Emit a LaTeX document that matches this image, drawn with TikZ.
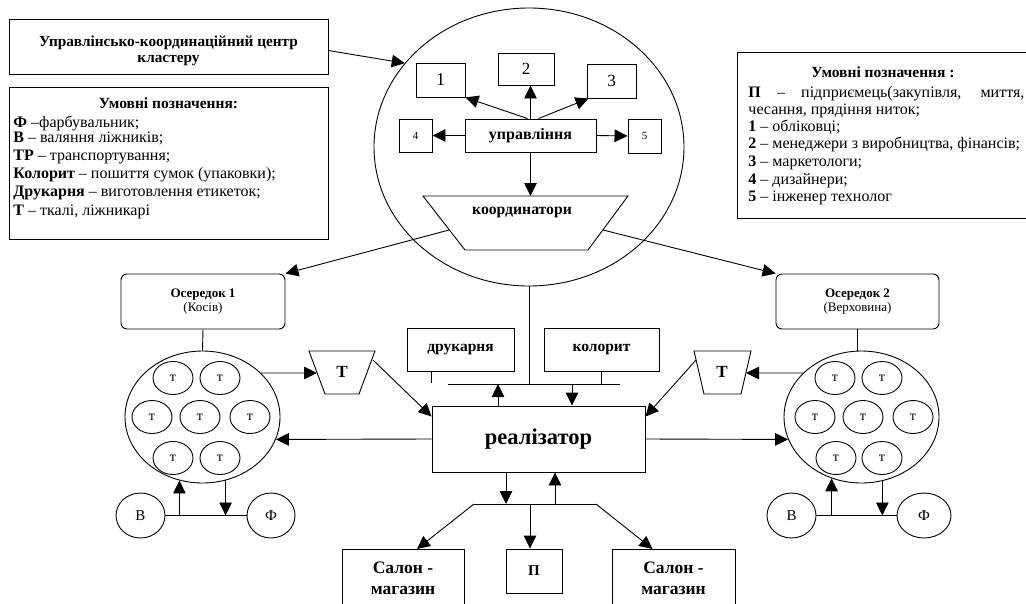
\documentclass[tikz,border=0pt]{standalone}
\usepackage{fontspec}
\setmainfont{Liberation Serif}
\usetikzlibrary{arrows.meta,shapes.geometric,calc}
\begin{document}
\begin{tikzpicture}[x=1pt,y=-1pt,line width=0.9pt,
  box/.style={draw,rectangle,inner sep=0pt,align=center},
  rbox/.style={draw,rectangle,rounded corners=6pt,inner sep=0pt,align=center,font=\fontsize{13}{14.5}\selectfont},
  ell/.style={draw,ellipse,inner sep=0pt},
  tell/.style={draw,ellipse,inner sep=0pt,minimum width=40pt,minimum height=33pt,font=\fontsize{14}{14}\selectfont},
  arr/.style={-{Triangle[length=13pt,width=12.5pt]}},
  leg/.style={anchor=base west,inner sep=0pt,font=\fontsize{16}{18}\selectfont},
  lab/.style={inner sep=0pt,align=center}]
\useasboundingbox (0,0) rectangle (1026,603);
\clip (0,0) rectangle (1026,603);

% top-left title box
\node[box,minimum width=319pt,minimum height=55pt] (tl) at (168.5,46.5) {};
\node[lab,font=\bfseries\fontsize{15.3}{16.5}\selectfont] (tlt) at (168.5,51) {Управлінсько-координаційний центр\\кластеру};

% left legend
\node[box,minimum width=319pt,minimum height=152pt] (lg) at (168.5,163) {};
\node[leg,anchor=base,font=\bfseries\fontsize{15.5}{16}\selectfont] (lgt) at (168.5,108) {Умовні позначення:};
\node[leg] (l1) at (13,127.5) {\textbf{Ф} –фарбувальник;};
\node[leg] (l2) at (13,142.5) {\textbf{В} – валяння ліжників;};
\node[leg] (l3) at (13,160) {\textbf{ТР} – транспортування;};
\node[leg] (l4) at (13,178) {\textbf{Колорит} – пошиття сумок (упаковки);};
\node[leg] (l5) at (13,196.5) {\textbf{Друкарня} – виготовлення етикеток;};
\node[leg] (l6) at (13,215) {\textbf{Т} – ткалі, ліжникарі};

% right legend
\node[box,minimum width=293pt,minimum height=166pt] (rg) at (883.5,135) {};
\node[leg,anchor=base,font=\bfseries\fontsize{15.5}{16}\selectfont] (rgt) at (883,77) {Умовні позначення :};
\node[leg] (r1) at (748,97.5) {\makebox[276pt][s]{\textbf{П} – підприємець(закупівля, миття,}};
\node[leg] (r2) at (748,114) {чесання, прядіння ниток;};
\node[leg] (r3) at (748,131.5) {\textbf{1} – обліковці;};
\node[leg] (r4) at (748,148.5) {\textbf{2} – менеджери з виробництва, фінансів;};
\node[leg] (r5) at (748,166.5) {\textbf{3} – маркетологи;};
\node[leg] (r6) at (748,184) {\textbf{4} – дизайнери;};
\node[leg] (r7) at (748,201.5) {\textbf{5} – інженер технолог};

% big circle
\node[ell,minimum width=310pt,minimum height=278pt] (cc) at (529,147) {};
\node[box,minimum width=49pt,minimum height=34pt,font=\fontsize{18}{18}\selectfont] (b1) at (440.5,80) {1};
\node[box,minimum width=56pt,minimum height=32pt,font=\fontsize{17}{18}\selectfont] (b2) at (526,69) {2};
\node[box,minimum width=49pt,minimum height=34pt,font=\fontsize{17}{18}\selectfont] (b3) at (611.5,81) {3};
\node[box,minimum width=33pt,minimum height=33pt,font=\fontsize{11}{12}\selectfont] (b4) at (415.5,135.5) {4};
\node[box,minimum width=33pt,minimum height=34pt,font=\fontsize{11}{12}\selectfont] (b5) at (644.5,136) {5};
\node[box,minimum width=131pt,minimum height=33pt,font=\bfseries\fontsize{16}{16}\selectfont] (upr) at (530.5,135.5) {управління};
\draw (423,196) -- (628,196) -- (588,250) -- (465,250) -- cycle;
\node[lab,font=\bfseries\fontsize{15.7}{16}\selectfont] (crd) at (522,212) {координатори};
\coordinate (crdT) at (530.5,196);
\coordinate (crdL) at (449,230);
\coordinate (crdR) at (603,230);

\draw[arr] (tl.east) ++(0,4) coordinate (tlo) -- (cc.146);
\draw[arr] ($(upr.north)+(-3,0)$) -- (b1.south east);
\draw[arr] (upr.north) -- (upr.north |- b2.south);
\draw[arr] ($(upr.north)+(8,0)$) -- ($(b3.south west)+(2,0)$);
\draw[arr] (upr.west) -- (b4.east);
\draw[arr] (upr.east) -- (b5.west);
\draw[arr] (upr.south) -- (crdT);

% cells
\node[rbox,minimum width=164pt,minimum height=55pt] (os1) at (203,301.5) {\textbf{Осередок 1}\\(Косів)};
\node[rbox,minimum width=163pt,minimum height=55pt] (os2) at (857.5,301.5) {\textbf{Осередок 2}\\(Верховина)};
\draw[arr] (crdL) -- (os1.north east);
\draw[arr] (crdR) -- (os2.north west);

% left cluster
\node[ell,minimum width=155pt,minimum height=132pt] (clL) at (202.5,417) {};
\node[tell] (tL1) at (173,378) {т};
\node[tell] (tL2) at (220,378) {т};
\node[tell] (tL3) at (152,417) {т};
\node[tell] (tL4) at (200,417) {т};
\node[tell] (tL5) at (250,417) {т};
\node[tell] (tL6) at (173,458) {т};
\node[tell] (tL7) at (220,458) {т};
\draw (os1.south) -- (clL.north);

% right cluster
\node[ell,minimum width=155pt,minimum height=132pt] (clR) at (861.5,417) {};
\node[tell] (tR1) at (835,378) {т};
\node[tell] (tR2) at (882,378) {т};
\node[tell] (tR3) at (815,417) {т};
\node[tell] (tR4) at (863,417) {т};
\node[tell] (tR5) at (913,417) {т};
\node[tell] (tR6) at (836,458) {т};
\node[tell] (tR7) at (882,458) {т};
\draw (os2.south) -- (os2.south |- clR.north);

% T trapezoids
\draw (309,351) -- (375,351) -- (359,394) -- (325,394) -- cycle;
\node[lab,font=\bfseries\fontsize{17}{20}\selectfont] (TL) at (342,372) {Т};
\coordinate (TLl) at (317,373);
\coordinate (TLr) at (373,360);
\draw (694,351) -- (751,351) -- (741,394) -- (704,394) -- cycle;
\node[lab,font=\bfseries\fontsize{17}{20}\selectfont] (TR) at (722,372) {Т};
\coordinate (TRr) at (746,373);
\coordinate (TRl) at (696,360);

% central bus
\coordinate (busL) at (448,384);
\coordinate (busR) at (620,384);
\draw (busL) -- (busR);
\draw (cc.south) -- (cc.south |- busL);
\node[box,minimum width=107pt,minimum height=43pt,font=\bfseries\fontsize{15.5}{16}\selectfont] (dr) at (460.5,349.5) {друкарня};
\node[box,minimum width=115pt,minimum height=43pt,font=\bfseries\fontsize{15.5}{16}\selectfont] (kol) at (601.5,349.5) {колорит};
\coordinate (drs) at (431,371);
\draw (drs) -- ++(0,12);
\draw (kol.south) -- (kol.south |- busL);

% realizator
\node[box,minimum width=213pt,minimum height=66pt,font=\bfseries\fontsize{22.5}{24}\selectfont] (real) at (538.5,439) {реалізатор};
\coordinate (up1) at (498,384);
\coordinate (dn1) at (572,384);
\draw[arr] (real.north -| up1) -- (up1);
\draw[arr] (dn1) -- (dn1 |- real.north);

\draw[arr] (clL.37) -- (TLl);
\draw[arr] (TLr) -- ($(real.north west)+(0,11)$);
\draw[arr] (clR.143) -- (TRr);
\draw[arr] (TRl) -- ($(real.north east)+(0,11)$);
\draw[arr] (real.west) -- (clL.-17);
\draw[arr] (real.east) -- (clR.197);

% B / F left
\node[ell,minimum width=49pt,minimum height=45pt,font=\fontsize{15}{15}\selectfont] (BL) at (140.5,515.5) {В};
\node[ell,minimum width=48pt,minimum height=45pt,font=\fontsize{15}{15}\selectfont] (FL) at (271,515.5) {Ф};
\draw (BL.east) -- (FL.west);
\draw[arr] (clL.250 |- BL.east) -- (clL.250);
\draw[arr] (clL.290) -- (clL.290 |- BL.east);

% B / F right
\node[ell,minimum width=49pt,minimum height=45pt,font=\fontsize{15}{15}\selectfont] (BR) at (791.5,515.5) {В};
\node[ell,minimum width=54pt,minimum height=45pt,font=\fontsize{15}{15}\selectfont] (FR) at (924,515.5) {Ф};
\draw (BR.east) -- (FR.west);
\draw[arr] (clR.244 |- BR.east) -- (clR.244);
\draw[arr] (clR.288) -- (clR.288 |- BR.east);

% bottom bus
\coordinate (bbL) at (474,504);
\coordinate (bbR) at (596,504);
\coordinate (bbP) at (530,504);
\coordinate (bdn) at (506,504);
\coordinate (bup) at (555,504);
\draw (bbL) -- (bbR);
\draw[arr] (real.south -| bdn) -- (bdn);
\draw[arr] (bup) -- (bup |- real.south);

\node[box,minimum width=122pt,minimum height=70pt,anchor=north] (s1) at (403,549) {};
\node[lab,font=\bfseries\fontsize{17.5}{21}\selectfont] (s1t) at (403,578) {Салон -\\магазин};
\node[box,minimum width=56pt,minimum height=44pt,font=\bfseries\fontsize{15}{15}\selectfont] (P) at (534,571) {П};
\node[box,minimum width=123pt,minimum height=70pt,anchor=north] (s2) at (673.5,549) {};
\node[lab,font=\bfseries\fontsize{17.5}{21}\selectfont] (s2t) at (673.5,578) {Салон -\\магазин};
\draw[arr] (bbL) -- ($(s1.north)+(14,0)$);
\draw[arr] (bbP) -- (bbP |- P.north);
\draw[arr] (bbR) -- ($(s2.north)+(-21,0)$);
\end{tikzpicture}
\end{document}
